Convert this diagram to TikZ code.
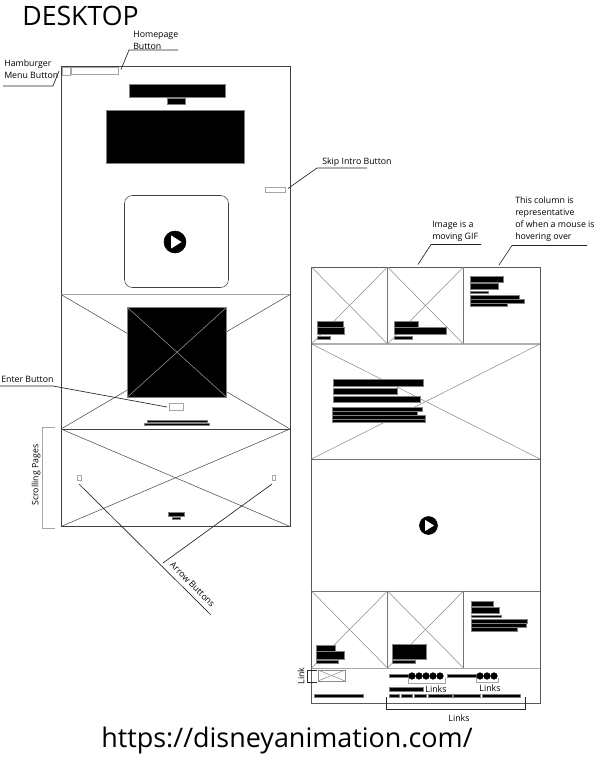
\documentclass[tikz,border=0pt]{standalone}
\usepackage{fontspec}
\setmainfont{Open Sans}
\tikzset{
	frameline/.style={line width=0.6pt, color=black!75},
	crossline/.style={line width=0.4pt, color=black!45},
	leaderline/.style={line width=0.5pt, color=black!85},
	btnline/.style={line width=0.6pt, color=black!35},
	blackbar/.style={fill=black, draw=black!50, line width=0.2pt},
	tag/.style={inner sep=0pt, font=\fontsize{6.6}{9}\selectfont, align=left, text=black},
}
\begin{document}
\begin{tikzpicture}[x=0.75pt, y=-0.75pt]
		\useasboundingbox (0, 0) rectangle (598, 758);
		
		%%%%% TITLES %%%%%
		\node[inner sep=0pt, font=\fontsize{20}{20}\selectfont] (desktop) at (80.5, 15.5) {DESKTOP};
		\node[inner sep=0pt, font=\fontsize{20.2}{20}\selectfont] (url) at (287, 740) {https://disneyanimation.com/};
		
		%%%%% LEFT PAGE %%%%%
		\draw[frameline] (61, 66) rectangle (290, 526.5);
		
		\draw[btnline] (62, 67) rectangle (70, 75);
		\draw[btnline] (71.5, 67.5) rectangle (118, 74);
		\draw[blackbar] (129.5, 84) rectangle (225.5, 97.5);
		\draw[blackbar] (167, 98) rectangle (185.5, 104);
		\draw[blackbar] (106.5, 110.5) rectangle (244, 163.5);
		\draw[btnline] (265, 187) rectangle (285, 192.5);
		
		\draw[frameline, line width=0.4pt, rounded corners=6] (124.5, 195.5) rectangle (228.5, 287.5);
		\draw[fill=black] (175, 242) circle [radius=11];
		\draw[fill=white, draw=white] (171.5, 236) -- (181, 242) -- (171.5, 248) -- cycle;
		
		% middle panel
		\draw[crossline, line width=0.6pt, color=black!35] (61, 294.5) -- (290, 294.5);
		\draw[crossline, color=black!70] (61, 294.5) -- (290, 429);
		\draw[crossline, color=black!70] (290, 294.5) -- (61, 429);
		\draw[blackbar, line width=0.4pt] (127.5, 307.5) rectangle (226.5, 397);
		\draw[crossline, color=black!40] (127.5, 307.5) -- (226.5, 397);
		\draw[crossline, color=black!40] (127.5, 397) -- (226.5, 307.5);
		\draw[btnline] (169, 403.5) rectangle (183.5, 410);
		\draw[blackbar] (147, 420) rectangle (207, 422.5);
		\draw[blackbar] (144, 423) rectangle (209, 425.5);
		
		% lower panel
		\draw[frameline] (61, 429) -- (290, 429);
		\draw[crossline, color=black!70] (61, 429) -- (290, 526.5);
		\draw[crossline, color=black!70] (290, 429) -- (61, 526.5);
		\draw[btnline] (77.5, 475.5) rectangle (81, 480);
		\draw[btnline] (272, 475.5) rectangle (275.5, 480);
		\draw[blackbar] (168, 512) rectangle (184, 516);
		\draw[blackbar] (172, 517) rectangle (180, 519.5);
		
		%%%%% LEFT LABELS %%%%%
		\node[tag] (homepage) at (133, 40) [anchor=west] {Homepage\\Button};
		\coordinate (homea) at (121, 69.5);
		\coordinate (homeb) at (129, 50);
		\coordinate (homec) at (178, 50);
		\draw[leaderline] (homea) -- (homeb) -- (homec);
		
		\node[tag] (hamburger) at (4, 69) [anchor=west] {Hamburger\\Menu Button};
		\coordinate (burga) at (59, 71);
		\coordinate (burgb) at (53, 86);
		\coordinate (burgc) at (3, 86);
		\draw[leaderline] (burga) -- (burgb) -- (burgc);
		
		\node[tag] (skipintro) at (322, 162) [anchor=west] {Skip Intro Button};
		\coordinate (skipa) at (288, 188.5);
		\coordinate (skipb) at (317, 168);
		\coordinate (skipc) at (367, 168);
		\draw[leaderline] (skipa) -- (skipb) -- (skipc);
		
		\node[tag] (enter) at (1, 379) [anchor=west] {Enter Button};
		\coordinate (entera) at (167, 407);
		\coordinate (enterb) at (53, 386);
		\coordinate (enterc) at (0, 386);
		\draw[leaderline] (entera) -- (enterb) -- (enterc);
		
		\node[tag, rotate=90] (scrolling) at (36, 475) {Scrolling Pages};
		\draw[btnline, line width=0.7pt] (54.5, 427) -- (42, 427) -- (42, 528) -- (54.5, 528);
		
		\node[tag, rotate=-45] (arrows) at (192.5, 584.5) {Arrow Buttons};
		\coordinate (arrowa) at (79, 484);
		\coordinate (arrowb) at (211, 615);
		\coordinate (arrowc) at (272, 484);
		\coordinate (arrowd) at (163, 563);
		\draw[leaderline] (arrowa) -- (arrowb);
		\draw[leaderline] (arrowc) -- (arrowd);
		
		%%%%% RIGHT PAGE %%%%%
		\draw[frameline, line width=0.7pt, color=black!65] (311.5, 267) rectangle (540, 703);
		\draw[frameline, color=black!55] (387.5, 267) -- (387.5, 344);
		\draw[frameline, color=black!55] (463.5, 267) -- (463.5, 344);
		\draw[frameline, line width=0.8pt, color=black!30] (311.5, 344) -- (540, 344);
		\draw[frameline, color=black!55] (311.5, 459) -- (540, 459);
		\draw[frameline, color=black!55] (311.5, 591) -- (540, 591);
		\draw[frameline, color=black!55] (387.5, 591) -- (387.5, 668);
		\draw[frameline, color=black!55] (463.5, 591) -- (463.5, 668);
		\draw[frameline, color=black!35] (311.5, 668) -- (540, 668);
		
		% crosses
		\draw[crossline] (311.5, 267) -- (387.5, 344);
		\draw[crossline] (387.5, 267) -- (311.5, 344);
		\draw[crossline] (387.5, 267) -- (463.5, 344);
		\draw[crossline] (463.5, 267) -- (387.5, 344);
		\draw[crossline] (311.5, 344) -- (540, 459);
		\draw[crossline] (540, 344) -- (311.5, 459);
		\draw[crossline] (311.5, 591) -- (387.5, 668);
		\draw[crossline] (387.5, 591) -- (311.5, 668);
		\draw[crossline] (387.5, 591) -- (463.5, 668);
		\draw[crossline] (463.5, 591) -- (387.5, 668);
		
		% top row text
		\draw[blackbar] (317, 321) rectangle (343, 327);
		\draw[blackbar] (317, 327) rectangle (344.5, 334.5);
		\draw[blackbar] (317, 336) rectangle (330, 339);
		\draw[blackbar] (394, 321) rectangle (418, 327);
		\draw[blackbar] (394, 327) rectangle (446, 334.5);
		\draw[blackbar] (394, 336) rectangle (412, 339);
		\draw[blackbar] (470.5, 276) rectangle (503.5, 282);
		\draw[blackbar] (470.5, 283) rectangle (498, 289);
		\draw[blackbar] (470.5, 291) rectangle (488, 293);
		\draw[blackbar] (470.5, 295) rectangle (519, 299);
		\draw[blackbar] (470.5, 299) rectangle (524, 303);
		\draw[blackbar] (470.5, 303) rectangle (507, 306.5);
		
		% big panel text
		\draw[blackbar] (333, 379) rectangle (423, 386);
		\draw[blackbar] (333, 388) rectangle (397, 394);
		\draw[blackbar] (333, 396) rectangle (420, 402);
		\draw[blackbar] (332, 407) rectangle (422, 410.7);
		\draw[blackbar] (332, 411) rectangle (417, 414.7);
		\draw[blackbar] (332, 415) rectangle (425, 418.7);
		\draw[blackbar] (332, 419) rectangle (425, 422);
		
		\draw[fill=black] (428.5, 525.5) circle [radius=9];
		\draw[fill=white, draw=white] (425.5, 520.5) -- (433.5, 525.5) -- (425.5, 530.5) -- cycle;
		
		% bottom row text
		\draw[blackbar] (316.5, 645) rectangle (335, 651);
		\draw[blackbar] (316.5, 651) rectangle (344, 659);
		\draw[blackbar] (316.5, 660) rectangle (338, 663);
		\draw[blackbar] (392, 644) rectangle (426, 659);
		\draw[blackbar] (392, 660) rectangle (415, 663);
		\draw[blackbar] (471, 601) rectangle (493, 606);
		\draw[blackbar] (471, 607) rectangle (499, 613);
		\draw[blackbar] (471, 615) rectangle (501, 617);
		\draw[blackbar] (471, 619) rectangle (527, 623);
		\draw[blackbar] (471, 623) rectangle (526, 627);
		\draw[blackbar] (471, 627) rectangle (517, 631);
		
		%%%%% FOOTER %%%%%
		\draw[crossline] (318, 670) rectangle (345, 681);
		\draw[crossline] (318, 670) -- (345, 681);
		\draw[crossline] (345, 670) -- (318, 681);
		\draw[leaderline, line width=0.4pt] (317, 670) -- (307, 670) -- (307, 682.5) -- (317, 682.5);
		\node[tag, rotate=90] (link) at (301, 676) {Link};
		
		\draw[blackbar] (314.5, 694.5) rectangle (363, 697);
		\draw[blackbar] (389, 674.5) rectangle (408, 677);
		\draw[blackbar] (447, 674.5) rectangle (476, 677);
		\foreach \cx in {412, 419, 426, 433, 440, 480, 487, 494}
			\draw[fill=black] (\cx, 676) circle [radius=3.3];
		\draw[btnline] (408, 678) -- (408, 683) -- (445, 683) -- (445, 678);
		\draw[btnline] (476.5, 678) -- (476.5, 682) -- (498, 682) -- (498, 678);
		\draw[blackbar] (389, 687.5) rectangle (423, 691);
		\node[tag] (linksa) at (436, 689) {Links};
		\node[tag] (linksb) at (490, 688) {Links};
		\foreach \xa/\xb in {389/399, 401/412, 414/426, 428/452, 453/480, 482/520}
			\draw[blackbar] (\xa, 694.5) rectangle (\xb, 697);
		\draw[leaderline, line width=0.4pt] (386, 697) -- (386, 709) -- (525, 709) -- (525, 697);
		\node[tag] (linksc) at (459, 718) {Links};
		
		\node[tag] (moving) at (432, 231.5) [anchor=west] {Image is a\\moving GIF};
		\coordinate (gifa) at (418, 264.5);
		\coordinate (gifb) at (431, 244.5);
		\coordinate (gifc) at (481, 244.5);
		\draw[leaderline] (gifa) -- (gifb) -- (gifc);
		
		\node[tag] (column) at (515, 219.5) [anchor=west] {This column is\\representative\\of when a mouse is\\hovering over};
		\coordinate (cola) at (499, 265);
		\coordinate (colb) at (512, 245.5);
		\coordinate (colc) at (587, 245.5);
		\draw[leaderline] (cola) -- (colb) -- (colc);
\end{tikzpicture}
\end{document}
